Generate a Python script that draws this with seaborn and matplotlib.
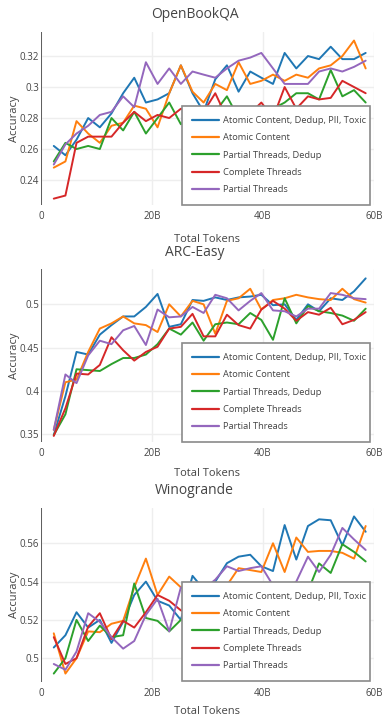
import matplotlib
matplotlib.use("Agg")
import matplotlib.pyplot as plt
import pandas as pd
import seaborn as sns

# Training progress (billions of tokens) at each evaluation checkpoint
tokens_b = [2.3, 4.4, 6.4, 8.5, 10.6, 12.7, 14.8, 16.8, 18.9, 21.0,
            23.1, 25.2, 27.3, 29.3, 31.4, 33.5, 35.6, 37.7, 39.7, 41.8,
            43.9, 46.0, 48.1, 50.1, 52.2, 54.3, 56.4, 58.5]

runs = ["Atomic Content, Dedup, PII, Toxic", "Atomic Content",
        "Partial Threads, Dedup", "Complete Threads", "Partial Threads"]
run_colors = ["#1f77b4", "#ff7f0e", "#2ca02c", "#d62728", "#9467bd"]

# OpenBookQA accuracy per run
obqa_atomic_dedup_pii_toxic = [0.262, 0.256, 0.266, 0.280, 0.274, 0.283, 0.296, 0.306, 0.290, 0.292,
                               0.296, 0.314, 0.296, 0.284, 0.305, 0.314, 0.297, 0.310, 0.306, 0.302,
                               0.322, 0.312, 0.320, 0.318, 0.326, 0.318, 0.318, 0.322]
obqa_atomic = [0.248, 0.252, 0.278, 0.270, 0.264, 0.275, 0.277, 0.288, 0.286, 0.274,
               0.296, 0.314, 0.297, 0.290, 0.302, 0.298, 0.316, 0.302, 0.304, 0.308,
               0.304, 0.308, 0.306, 0.312, 0.314, 0.320, 0.330, 0.312]
obqa_partial_dedup = [0.252, 0.264, 0.260, 0.262, 0.260, 0.280, 0.272, 0.284, 0.270, 0.280,
                      0.290, 0.276, 0.282, 0.278, 0.284, 0.294, 0.280, 0.282, 0.278, 0.286,
                      0.290, 0.296, 0.296, 0.292, 0.311, 0.294, 0.298, 0.290]
obqa_complete = [0.228, 0.230, 0.264, 0.268, 0.268, 0.268, 0.277, 0.284, 0.278, 0.282,
                 0.280, 0.286, 0.284, 0.284, 0.296, 0.280, 0.282, 0.283, 0.290, 0.280,
                 0.300, 0.286, 0.294, 0.292, 0.293, 0.304, 0.300, 0.296]
obqa_partial = [0.250, 0.263, 0.270, 0.275, 0.282, 0.284, 0.294, 0.287, 0.316, 0.302,
                0.312, 0.302, 0.310, 0.308, 0.306, 0.312, 0.317, 0.319, 0.322, 0.312,
                0.302, 0.302, 0.302, 0.310, 0.312, 0.310, 0.313, 0.317]

# ARC-Easy accuracy per run
arc_atomic_dedup_pii_toxic = [0.349, 0.394, 0.445, 0.442, 0.465, 0.476, 0.486, 0.486, 0.497, 0.512,
                              0.474, 0.477, 0.505, 0.504, 0.508, 0.505, 0.508, 0.509, 0.511, 0.499,
                              0.500, 0.482, 0.500, 0.492, 0.507, 0.505, 0.515, 0.530]
arc_atomic = [0.355, 0.410, 0.413, 0.445, 0.472, 0.478, 0.486, 0.478, 0.476, 0.468,
              0.500, 0.486, 0.504, 0.500, 0.466, 0.504, 0.507, 0.518, 0.494, 0.505,
              0.507, 0.511, 0.508, 0.506, 0.505, 0.518, 0.506, 0.502]
arc_partial_dedup = [0.349, 0.373, 0.425, 0.424, 0.423, 0.431, 0.438, 0.438, 0.442, 0.454,
                     0.472, 0.465, 0.479, 0.458, 0.477, 0.479, 0.477, 0.490, 0.482, 0.459,
                     0.507, 0.478, 0.498, 0.492, 0.490, 0.487, 0.481, 0.495]
arc_complete = [0.348, 0.380, 0.420, 0.419, 0.430, 0.462, 0.447, 0.435, 0.445, 0.451,
                0.472, 0.474, 0.489, 0.463, 0.463, 0.488, 0.476, 0.472, 0.494, 0.504,
                0.495, 0.481, 0.491, 0.488, 0.496, 0.477, 0.482, 0.491]
arc_partial = [0.355, 0.419, 0.409, 0.441, 0.458, 0.454, 0.470, 0.475, 0.453, 0.494,
               0.485, 0.486, 0.497, 0.490, 0.511, 0.507, 0.493, 0.504, 0.513, 0.493,
               0.492, 0.486, 0.495, 0.495, 0.513, 0.511, 0.507, 0.506]

# Winogrande accuracy per run
wino_atomic_dedup_pii_toxic = [0.5056, 0.512, 0.524, 0.516, 0.520, 0.508, 0.519, 0.533, 0.540, 0.530,
                               0.5275, 0.520, 0.543, 0.536, 0.540, 0.5496, 0.553, 0.554, 0.548, 0.5455,
                               0.5695, 0.5515, 0.569, 0.5725, 0.572, 0.559, 0.574, 0.566]
wino_atomic = [0.513, 0.492, 0.500, 0.514, 0.5136, 0.518, 0.5195, 0.537, 0.552, 0.533,
               0.5426, 0.537, 0.535, 0.532, 0.536, 0.538, 0.547, 0.546, 0.545, 0.560,
               0.545, 0.563, 0.5555, 0.556, 0.556, 0.555, 0.552, 0.569]
wino_partial_dedup = [0.492, 0.500, 0.520, 0.509, 0.517, 0.511, 0.512, 0.539, 0.521, 0.5195,
                      0.514, 0.520, 0.524, 0.528, 0.522, 0.526, 0.530, 0.527, 0.532, 0.529,
                      0.534, 0.531, 0.535, 0.5495, 0.5445, 0.5595, 0.5555, 0.5505]
wino_complete = [0.511, 0.497, 0.500, 0.5165, 0.5235, 0.510, 0.5195, 0.516, 0.524, 0.533,
                 0.530, 0.525, 0.522, 0.527, 0.530, 0.526, 0.531, 0.528, 0.533, 0.530,
                 0.535, 0.532, 0.536, 0.534, 0.537, 0.535, 0.538, 0.536]
wino_partial = [0.497, 0.494, 0.5035, 0.5235, 0.519, 0.511, 0.505, 0.509, 0.5226, 0.531,
                0.514, 0.537, 0.535, 0.536, 0.541, 0.548, 0.5455, 0.547, 0.548, 0.538,
                0.535, 0.540, 0.553, 0.545, 0.554, 0.568, 0.562, 0.5565]

x_ticks = [0, 20, 40, 60]
x_tick_labels = ["0", "20B", "40B", "60B"]

obqa_ticks = [0.24, 0.26, 0.28, 0.30, 0.32]
obqa_tick_labels = ["0.24", "0.26", "0.28", "0.3", "0.32"]
arc_ticks = [0.35, 0.40, 0.45, 0.50]
arc_tick_labels = ["0.35", "0.4", "0.45", "0.5"]
wino_ticks = [0.50, 0.52, 0.54, 0.56]
wino_tick_labels = ["0.5", "0.52", "0.54", "0.56"]


def long_frame(columns):
    rows = []
    for name, values in zip(runs, columns):
        for t, v in zip(tokens_b, values):
            rows.append((t, v, name))
    return pd.DataFrame(rows, columns=["tokens", "accuracy", "run"])


panels = [
    ("OpenBookQA",
     long_frame([obqa_atomic_dedup_pii_toxic, obqa_atomic, obqa_partial_dedup, obqa_complete, obqa_partial]),
     obqa_ticks, obqa_tick_labels, (0.2239, 0.3355), 32, 205, 35),
    ("ARC-Easy",
     long_frame([arc_atomic_dedup_pii_toxic, arc_atomic, arc_partial_dedup, arc_complete, arc_partial]),
     arc_ticks, arc_tick_labels, (0.341, 0.5408), 269, 442, 31),
    ("Winogrande",
     long_frame([wino_atomic_dedup_pii_toxic, wino_atomic, wino_partial_dedup, wino_complete, wino_partial]),
     wino_ticks, wino_tick_labels, (0.4876, 0.5784), 508, 682, 29),
]

sns.set_theme(style="white")
plt.rcParams["font.family"] = ["Open Sans", "DejaVu Sans"]
TEXT = "#444444"

W, H = 382, 720
fig = plt.figure(figsize=(W / 100, H / 100), dpi=100)

left_px, right_px = 41, 374
for title, frame, yticks, ylabels, ylim, top_px, bottom_px, xlabel_gap in panels:
    ax = fig.add_axes([left_px / W, 1 - bottom_px / H,
                       (right_px - left_px) / W, (bottom_px - top_px) / H])
    sns.lineplot(data=frame, x="tokens", y="accuracy", hue="run",
                 hue_order=runs, palette=run_colors, linewidth=1.4, ax=ax)

    ax.set_xlim(0, 60)
    ax.set_ylim(*ylim)
    ax.set_xticks(x_ticks)
    ax.set_xticklabels(x_tick_labels)
    ax.set_yticks(yticks)
    ax.set_yticklabels(ylabels)
    ax.tick_params(axis="both", length=0, labelsize=7, colors=TEXT)
    ax.tick_params(axis="x", pad=4)
    ax.tick_params(axis="y", pad=1.5)
    for spine in ax.spines.values():
        spine.set_visible(False)
    ax.grid(True, color="#eeeeee", linewidth=1)
    ax.set_axisbelow(True)
    ax.axvline(0, color=TEXT, linewidth=1.2, zorder=1.5)

    h_px = bottom_px - top_px
    ax.set_ylabel("Accuracy", fontsize=8, color=TEXT)
    ax.yaxis.set_label_coords((14 - left_px) / (right_px - left_px), 0.5)
    ax.yaxis.label.set_va("center")
    ax.set_xlabel("Total Tokens", fontsize=8, color=TEXT)
    ax.xaxis.label.set_va("center")
    ax.xaxis.set_label_coords(0.5, -xlabel_gap / h_px)

    fig.text(194.5 / W, 1 - (top_px - 17) / H, title, ha="center", va="center",
             fontsize=10, color=TEXT)

    handles, labels = ax.get_legend_handles_labels()
    x0 = (182 - left_px) / (right_px - left_px)
    x1 = (370 - left_px) / (right_px - left_px)
    y_top = (bottom_px - (top_px + 73.7)) / h_px
    leg = ax.legend(handles, labels, loc="upper left",
                    bbox_to_anchor=(x0, 0.0, x1 - x0, y_top), mode="expand",
                    borderaxespad=0, fontsize=6.7, frameon=True, fancybox=False,
                    framealpha=1, borderpad=1.1, labelspacing=0.9,
                    handlelength=2.9, handletextpad=0.45, labelcolor=TEXT)
    leg.get_frame().set_edgecolor("#8a8a8a")
    leg.get_frame().set_linewidth(1.2)
    for line in leg.get_lines():
        line.set_linewidth(1.6)

fig.savefig("out.png", dpi=100)
